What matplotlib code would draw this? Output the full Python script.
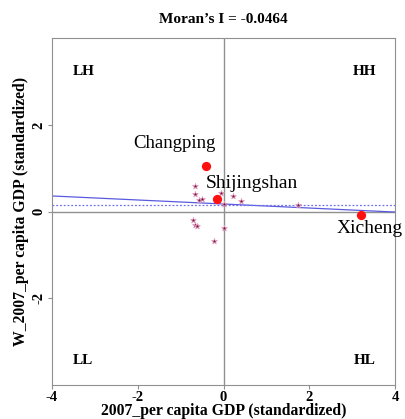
import numpy as np
import matplotlib
matplotlib.use("Agg")
import matplotlib.pyplot as plt

plt.rcParams['font.family'] = ['Liberation Serif', 'DejaVu Serif']
plt.rcParams['axes.unicode_minus'] = False

# standardized per capita GDP (x) and its spatial lag (y)
other_x = [-0.66, -0.66, -0.57, -0.49, -0.07, 0.21, 0.40, 0.01,
           -0.70, -0.66, -0.62, 0.01, -0.21, 1.73]
other_y = [0.60, 0.41, 0.27, 0.28, 0.43, 0.37, 0.24, 0.18,
           -0.19, -0.30, -0.34, -0.37, -0.67, 0.16]

named = ['Changping', 'Shijingshan', 'Xicheng']
named_x = [-0.41, -0.15, 3.20]
named_y = [1.06, 0.28, -0.07]

moran_i = -0.0464
intercept = 0.175
lag_mean = 0.15

quadrants = ['LH', 'HH', 'LL', 'HL']

fig = plt.figure(figsize=(4.06, 4.19), dpi=100)
ax = fig.add_axes([0.128, 0.081, 0.845, 0.828])

ax.axhline(0, color='#909090', lw=1.0, zorder=1)
ax.axvline(0, color='#909090', lw=1.0, zorder=1)
xs = np.array([-4, 4])
ax.plot(xs, intercept + moran_i * xs, color='#5a5ae0', lw=0.9, zorder=2)
ax.axhline(lag_mean, color='#7070e8', lw=0.9, ls=(0, (1.5, 1.5)), zorder=2)

ax.scatter(other_x, other_y, marker='*', s=20, color='#7a1040',
           edgecolors='#e6a8c8', linewidths=0.5, zorder=3)
ax.scatter(named_x, named_y, s=32, color='#ff1010', zorder=4)

ax.text(-1.15, 1.56, named[0], fontsize=13.5, ha='center', va='center')
ax.text(0.66, 0.64, named[1], fontsize=14, ha='center', va='center')
ax.text(3.41, -0.39, named[2], fontsize=14, ha='center', va='center', clip_on=False)

qpos = [(-3.27, 3.24), (3.3, 3.24), (-3.27, -3.43), (3.3, -3.43)]
for q, (qx, qy) in zip(quadrants, qpos):
    ax.text(qx, qy, q, fontsize=11, fontweight='bold', ha='center', va='center')

ax.set_xlim(-4, 4)
ax.set_ylim(-4, 4)
ax.set_xticks([-4, -2, 0, 2, 4])
ax.set_yticks([-2, 0, 2])
for lab in ax.get_xticklabels():
    lab.set_fontweight('bold')
    lab.set_fontsize(10.5)
for lab in ax.get_yticklabels():
    lab.set_fontweight('bold')
    lab.set_fontsize(10.5)
    lab.set_rotation(90)
    lab.set_va('center')
ax.tick_params(length=3, color='#909090', pad=1.5)
for sp in ax.spines.values():
    sp.set_color('#909090')

ax.set_title("Moran\u2019s I = -0.0464", fontsize=11, fontweight='bold', pad=11)
ax.set_xlabel('2007_per capita GDP (standardized)', fontsize=11.3, fontweight='bold', labelpad=-1)
ax.set_ylabel('W_2007_per capita GDP (standardized)', fontsize=11.3, fontweight='bold', labelpad=3)

fig.savefig('out.png', dpi=100)
